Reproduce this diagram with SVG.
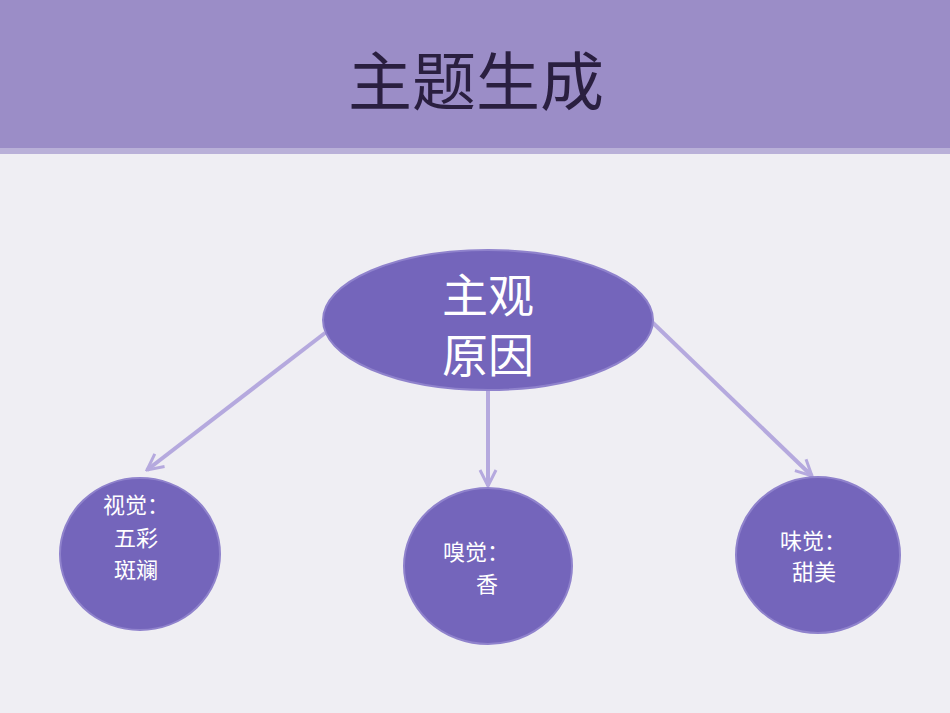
<svg xmlns="http://www.w3.org/2000/svg" width="950" height="713" viewBox="0 0 950 713">
<defs>
<style>
.n{fill:#7465bb;stroke:#8f82cc;stroke-width:2}
.t{fill:#fff;font-family:"Liberation Serif","Noto Sans CJK SC",serif}
.c{stroke:#b5a9de;stroke-width:4;fill:none;marker-end:url(#a)}
</style>
<marker id="a" viewBox="0 0 10 10" refX="9" refY="5" markerWidth="5" markerHeight="5" orient="auto" markerUnits="strokeWidth">
<path d="M1,1 L9,5 L1,9" fill="none" stroke="#b5a9de" stroke-width="1.5"/>
</marker>
</defs>
<rect width="950" height="713" fill="#efeef3"/>
<rect width="950" height="150" fill="#9b8dc7"/>
<rect y="148" width="950" height="6" fill="#b9b0d8"/>
<text x="476" y="105" text-anchor="middle" font-size="64" fill="#2a1f40" font-family="Liberation Serif,'Noto Sans CJK SC',serif">主题生成</text>
<g id="connectors">
<line class="c" x1="325" y1="333" x2="147" y2="470"/>
<line class="c" x1="488" y1="390" x2="488" y2="486"/>
<line class="c" x1="652" y1="322" x2="812" y2="476"/>
</g>
<g id="root"><ellipse class="n" cx="488" cy="320" rx="165" ry="70"/>
<text class="t" x="488" y="312" text-anchor="middle" font-size="46">主观</text>
<text class="t" x="488" y="372" text-anchor="middle" font-size="46">原因</text></g>
<g id="sight"><ellipse class="n" cx="140" cy="554" rx="80" ry="76"/>
<text class="t" font-size="22"><tspan x="103" y="513">视觉：</tspan><tspan x="114" y="546">五彩</tspan><tspan x="114" y="578">斑斓</tspan></text></g>
<g id="smell"><ellipse class="n" cx="488" cy="566" rx="84" ry="78"/>
<text class="t" font-size="22"><tspan x="443" y="560">嗅觉：</tspan><tspan x="476" y="592">香</tspan></text></g>
<g id="taste"><ellipse class="n" cx="818" cy="555" rx="82" ry="78"/>
<text class="t" font-size="22"><tspan x="780" y="549">味觉：</tspan><tspan x="792" y="580">甜美</tspan></text></g>
</svg>
